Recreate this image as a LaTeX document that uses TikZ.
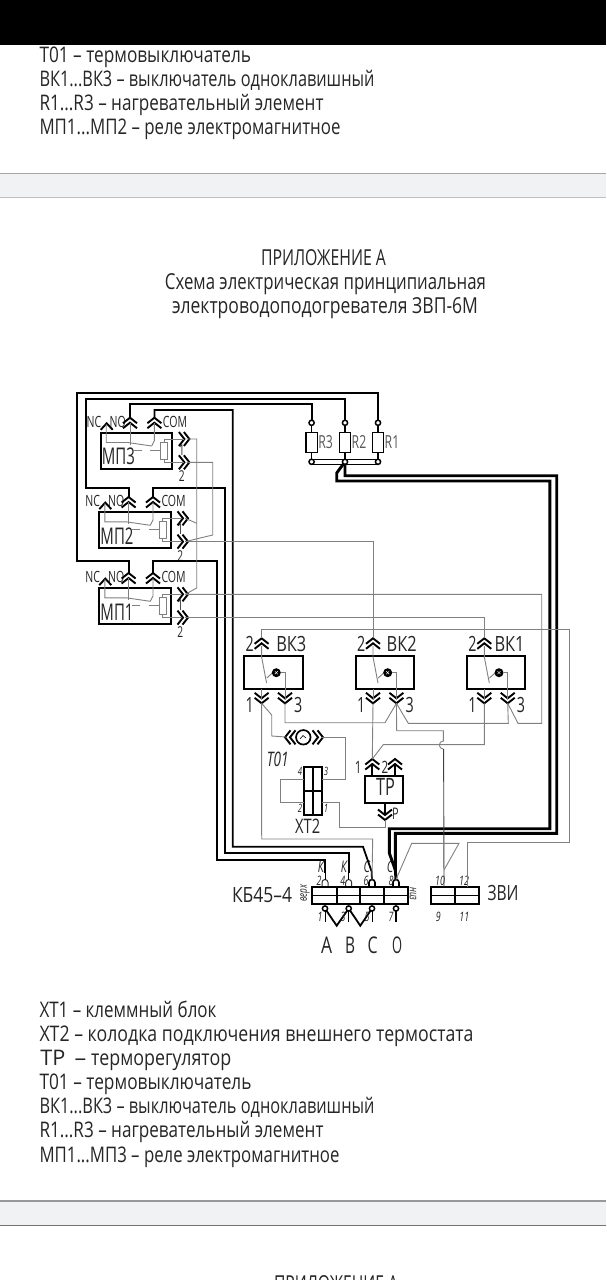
\documentclass[tikz,border=0pt]{standalone}
\usepackage{fontspec}
\usepackage{graphicx}
\setmainfont[FakeStretch=0.68]{Open Sans}
\definecolor{ink}{HTML}{262626}
\definecolor{wiregray}{HTML}{808080}
\definecolor{bandfill}{HTML}{F1F2F4}
\newcommand\fw[2]{\resizebox{#1pt}{\height}{#2}}
\tikzset{
  lbl/.style={font=\fontsize{#1}{#1}\selectfont, inner sep=0pt, outer sep=0pt, text=ink},
  ilbl/.style={font=\fontsize{#1}{#1}\selectfont\itshape, inner sep=0pt, outer sep=0pt, text=ink},
  txt/.style={lbl=21.5, anchor=base west},
  ttl/.style={lbl=22, anchor=base},
  thickw/.style={line width=1.8pt, draw=black},
  busw/.style={line width=2.9pt, draw=black},
  thinw/.style={line width=0.9pt, draw=wiregray},
  darkw/.style={line width=0.9pt, draw=black!75},
  boxs/.style={draw=black, line width=2pt, inner sep=0pt, outer sep=0pt, anchor=north west},
  ring/.style={circle, draw=black, line width=1.5pt, fill=white, inner sep=0pt, minimum size=5.2pt, outer sep=0pt},
  pics/dchev/.style={code={
    \draw[line width=1.9pt, draw=black] (-7,5.5) -- (0,0) -- (7,5.5);
    \draw[line width=1.9pt, draw=black] (-7,10.5) -- (0,5) -- (7,10.5);
  }},
  pics/schev/.style={code={
    \draw[line width=1.9pt, draw=black] (-6,6.5) -- (0,0) -- (6,6.5);
  }},
  pics/relay/.style={code={
    \node[boxs, minimum width=71.5pt, minimum height=36pt] (-box) at (0,0) {};
    \node[lbl=23] (-lab) at (17.7,23.5) {\fw{33}{#1}};
    \node[lbl=15.5] (-nc) at (-6.7,-11) {NC};
    \node[lbl=15.5] (-nol) at (17,-11) {NO};
    \node[lbl=15.5] (-coml) at (74.3,-11) {COM};
    \pic at (6,-9.7) {schev};
    \pic at (29.3,-15.3) {dchev};
    \pic at (53.7,-15.3) {dchev};
    \pic[rotate=-90] at (88.7,6) {dchev};
    \pic[rotate=-90] at (88.7,29.3) {dchev};
    \coordinate (-no) at (29.3,-15.3);
    \coordinate (-com) at (53.7,-15.3);
    \coordinate (-t1) at (86,6);
    \coordinate (-t2) at (86,29.3);
    \node[lbl=15] (-n1) at (81,17) {1};
    \node[lbl=15] (-n2) at (81,43.3) {2};
    \draw[thinw] (5.5,-9) -- (5.5,9.5) -- (27,9.5) -- (51,13);
    \draw[thinw] (29.3,-10) -- (29.3,11.7);
    \draw[thinw] (53.7,-10) -- (53.7,7.5) -- (51,13);
    \draw[thinw] (32.7,17.5) -- (41,17.5);
    \draw[thinw] (49.3,17.5) -- (59.5,17.5);
    \draw[thinw, fill=white] (60,9.3) rectangle (66.7,26);
    \draw[thinw] (63.3,9.3) -- (63.3,6) -- (83,6);
    \draw[thinw] (63.3,26) -- (63.3,29.3) -- (83,29.3);
  }},
  pics/resist/.style={code={
    \node[draw=black, line width=1.4pt, inner sep=0pt, minimum width=11.5pt, minimum height=20pt, outer sep=0pt] (-body) at (0,0) {};
    \node[ring] (-top) at (0,-19.5) {};
    \node[ring] (-bot) at (0,19.5) {};
    \draw[line width=1.3pt] (-top) -- (-body);
    \draw[line width=1.3pt] (-body) -- (-bot);
    \node[lbl=18, text=black!65] (-lab) at (14,0) {#1};
  }},
  pics/vk/.style 2 args={code={
    \node[boxs, minimum width=58.4pt, minimum height=33pt] (-box) at (0,0) {};
    \pic at (17.3,-17.7) {dchev};
    \pic[rotate=180] at (17.3,47.3) {dchev};
    \pic[rotate=180] at (40.7,47.3) {dchev};
    \coordinate (-p2) at (17.3,-17.7);
    \coordinate (-p1) at (17.3,47.3);
    \coordinate (-p3) at (40.7,47.3);
    \node[lbl=21] (-n2) at (5.5,-12.5) {2};
    \node[lbl=21] (-n1) at (5.5,49) {1};
    \node[lbl=21] (-n3) at (54,49) {3};
    \node[lbl=21] (-lab) at (#2,-12.5) {\fw{30}{#1}};
    \draw[thinw] (17.3,-10) -- (17.3,1) -- (22.3,27);
    \draw[thinw] (17.3,33) -- (17.3,44);
    \draw[thinw] (22.5,22) -- (28,17);
    \node[circle, fill=black, inner sep=0pt, minimum size=9pt] (-lamp) at (32,16.7) {};
    \draw[white, line width=0.4pt] (30.5,15.2) -- (33.5,18.2) (30.5,18.2) -- (33.5,15.2);
    \draw[thinw] (-lamp) -- (40.7,16.7) -- (40.7,44);
  }},
}
\begin{document}
\begin{tikzpicture}[x=1pt,y=-1pt]
\useasboundingbox (0,0) rectangle (606,1280);
\clip (0,0) rectangle (606,1280);
\fill[white] (0,0) rectangle (606,1280);

% top list
\node[txt] (a1) at (39.5,62) {\fw{211.5}{Т01 – термовыключатель}};
\node[txt] (a2) at (39.5,86) {\fw{335}{ВК1...ВК3 – выключатель одноклавишный}};
\node[txt] (a3) at (39.5,110) {\fw{284}{R1...R3 – нагревательный элемент}};
\node[txt] (a4) at (39.5,134) {\fw{301}{МП1...МП2 – реле электромагнитное}};
\fill[black] (0,0) rectangle (606,45);

% separators
\fill[bandfill] (0,173.5) rectangle (606,197.5);
\draw[black!35, line width=1pt] (0,173.5) -- (606,173.5);
\draw[black!25, line width=1.4pt] (0,197.5) -- (606,197.5);
\fill[bandfill] (0,1201) rectangle (606,1225);
\draw[black!40, line width=1.5pt] (0,1201) -- (606,1201);
\draw[black!55, line width=0.8pt] (0,1225) -- (606,1225);

% title
\node[ttl] (h1) at (323.5,265.5) {\fw{125}{ПРИЛОЖЕНИЕ А}};
\node[ttl] (h2) at (325.5,289.5) {\fw{321}{Схема электрическая принципиальная}};
\node[ttl] (h3) at (325,313.5) {\fw{306}{электроводоподогревателя ЗВП-6М}};

% bottom list
\node[txt] (b1) at (39.5,1017) {\fw{177}{ХТ1 – клеммный блок}};
\node[txt] (b2) at (39.5,1041) {\fw{434}{ХТ2 – колодка подключения внешнего термостата}};
\node[txt] (b3) at (40.5,1065) {\fw{25}{ТР}\hspace{9pt}\fw{11.7}{–}\hspace{5pt}\fw{140}{терморегулятор}};
\node[txt] (b4) at (39.5,1089) {\fw{212}{Т01 – термовыключатель}};
\node[txt] (b5) at (39.5,1113) {\fw{335}{ВК1...ВК3 – выключатель одноклавишный}};
\node[txt] (b6) at (39.5,1137) {\fw{284}{R1...R3 – нагревательный элемент}};
\node[txt] (b7) at (39.5,1162) {\fw{300}{МП1...МП3 – реле электромагнитное}};
\node[ttl] (h4) at (336,1291) {\fw{124}{ПРИЛОЖЕНИЕ А}};

% relays
\pic (m3) at (100.7,433) {relay=МП3};
\pic (m2) at (99.3,512.3) {relay=МП2};
\pic (m1) at (99.3,588.3) {relay=МП1};

% resistors
\pic (r3) at (311.6,442.3) {resist=R3};
\pic (r2) at (345,442.3) {resist=R2};
\pic (r1) at (378,442.3) {resist=R1};
\draw[line width=1.3pt] (r3-bot.north) -- (r2-bot.north) (r2-bot.north) -- (r1-bot.north);
\draw[line width=1.3pt] (r3-bot.south) -- (r2-bot.south) (r2-bot.south) -- (r1-bot.south);

% switches
\pic (v3) at (244.3,656) {vk={ВК3}{47}};
\pic (v2) at (355.7,656) {vk={ВК2}{46}};
\pic (v1) at (467,656) {vk={ВК1}{42.5}};

% TP
\node[boxs, minimum width=38.3pt, minimum height=27pt] (tp) at (365,776.3) {};
\node[lbl=24] (tplab) at (385.5,786.5) {ТР};
\pic at (372.3,759) {dchev};
\pic at (395,759) {dchev};
\pic[rotate=180] at (385,820) {dchev};
\coordinate (tp1) at (372.3,759);
\coordinate (tp2) at (395,759);
\coordinate (tpp) at (385,820);
\draw[thickw] (372.3,764) -- (372.3,776.3);
\draw[thickw] (395,764) -- (395,776.3);
\draw[thickw] (385,803.3) -- (385,815);
\node[lbl=17] (tpn1) at (358.3,767) {1};
\node[lbl=17] (tpn2) at (385,767) {2};
\node[lbl=16] (tpnp) at (395.5,813.5) {Р};

% T01
\node[circle, draw=black, line width=1.7pt, minimum size=14.5pt, inner sep=0pt, outer sep=0pt] (to) at (303.3,737.3) {};
\pic[rotate=90] at (285,737.3) {dchev};
\pic[rotate=-90] at (323,737.3) {dchev};
\coordinate (tol) at (286,737);
\coordinate (tor) at (322,737);
\draw[line width=0.6pt] (300,739) -- (303,735.5) -- (306,738);
\node[ilbl=20] (tolab) at (277.7,759) {Т01};

% XT2
\node[draw=black, line width=1.9pt, minimum width=17.4pt, minimum height=48pt, inner sep=0pt, outer sep=0pt] (xt) at (313,791) {};
\draw[line width=1.6pt] (xt.north) -- (xt.south);
\draw[line width=1.6pt] (xt.west) -- (xt.east);
\coordinate (xt4) at (304.3,779);
\coordinate (xt3) at (321.7,779);
\coordinate (xt2) at (304.3,802.7);
\coordinate (xt1) at (321.7,802.7);
\node[ilbl=11.5] (xn4) at (300,771) {4};
\node[ilbl=11.5] (xn3) at (326,771) {3};
\node[ilbl=11.5] (xn2) at (300,808) {2};
\node[ilbl=11.5] (xn1) at (326,808) {1};
\node[lbl=20] (xtlab) at (307.7,826) {\fw{25}{ХТ2}};

% terminal blocks
\node[boxs, minimum width=96pt, minimum height=17.6pt] (kb) at (312.3,886.7) {};
\draw[line width=1.9pt] (kb.west) -- (kb.east);
\foreach \x in {336.7,360.3,384} \draw[line width=1.9pt] (\x,886.7) -- (\x,904.3);
\node[boxs, minimum width=48pt, minimum height=17.6pt] (zv) at (431.3,886.7) {};
\draw[line width=1.9pt] (zv.west) -- (zv.east);
\draw[line width=1.9pt] (455.3,886.7) -- (455.3,904.3);
\coordinate (z10) at (444,886.7);
\coordinate (z12) at (467.3,886.7);
\foreach \x in {325,348.7} \draw[line width=1pt, draw=black!80] (\x-3,886) -- (\x-3,882.5) arc[start angle=180,end angle=0,radius=3pt] -- (\x+3,886);
\foreach \x in {372,396} \draw[line width=1.6pt] (\x-3,886) -- (\x-3,882.5) arc[start angle=180,end angle=0,radius=3pt] -- (\x+3,886);
\coordinate (kb2) at (325,879.5);
\coordinate (kb4) at (348.7,879.5);
\coordinate (kb6) at (372,879.5);
\coordinate (kb8) at (396,879.5);
\node[ring] (kb1) at (325,908.5) {};
\node[ring] (kb3) at (348.7,908.5) {};
\node[ring] (kb5) at (372,908.5) {};
\node[ring] (kb7) at (396,908.5) {};
\coordinate (zz1) at (336.7,925.7);
\coordinate (zz2) at (360.3,925.7);
\draw[thickw] (kb1) -- (zz1) -- (kb3) -- (zz2) -- (kb5);
\draw[thickw] (kb7) -- (396,922);
\draw[line width=1pt] (kb1) -- (325,922) (kb3) -- (348.7,922) (kb5) -- (372,922);
\foreach \n/\x/\t in {k2/321/К,k4/344/К,k6/366.7/С,k8/390/С} \node[ilbl=16] (\n) at (\x,867) {\t};
\foreach \n/\x/\t in {n2/319/2,n4/342.7/4,n6/366/6,n8/391/8,n10/440/10,n12/464/12} \node[ilbl=13] (\n) at (\x,880.5) {\t};
\foreach \n/\x/\t in {n1/320/1,n3/343/3,n5/367/5,n7/391/7,n9/438.3/9,n11/464.3/11} \node[ilbl=13] (\n) at (\x,916.5) {\t};
\node[ilbl=12, rotate=90] (verh) at (305,893) {верх};
\node[ilbl=12, rotate=-90] (niz) at (413,894) {низ};
\node[lbl=21] (kblab) at (262,895) {\fw{60}{КБ45–4}};
\node[lbl=21] (zvlab) at (503,893) {\fw{31}{ЗВИ}};
\node[lbl=23] (la) at (326.7,945) {\fw{11}{А}};
\node[lbl=23] (lb) at (350,945) {\fw{10}{В}};
\node[lbl=23] (lc) at (372.7,945) {\fw{10}{С}};
\node[lbl=23] (lo) at (397,945) {\fw{10}{О}};

% thick wires
\draw[thickw] (m1-no) |- (77,560.7) |- (378,393.3) -- (r1-top);
\draw[thickw] (m2-no) |- (86,488.3) |- (345,399) -- (r2-top);
\draw[thickw] (m3-no) |- (311.6,404) -- (r3-top);
\draw[thickw] (m1-com) |- (216.7,560.7) |- (325,860) -- (325,873);
\draw[thickw] (m2-com) |- (225,488.3) |- (348.7,853) -- (348.7,873);
\draw[thickw] (m3-com) |- (232.7,410) |- (363,846.7) -- (371.7,871.7) -- (kb6);
\draw[line width=1pt] (325,873) -- (kb2) (348.7,873) -- (kb4);
% bus
\draw[busw, line join=miter] (r2-bot) -- (345,475.7) -- (556.7,475.7) -- (556.7,833.3) -- (395.3,833.3) -- (395.3,870) -- (kb8);
\draw[busw, line join=miter] (r2-bot) -- (336.7,473) -- (336.7,481) -- (549.8,481) -- (549.8,828.7) -- (389.3,828.7) -- (389.3,853) -- (395.3,870);

% thin wires
\draw[thinw] (m3-t1) -- (196.7,439) -- (196.7,588) -- (m1-t1);
\draw[thinw] (m2-t1) -- (196.7,523.3);
\draw[thinw] (m3-t2) -- (212.7,462.3) -- (212.7,535) -- (m2-t2);
\draw[thinw] (m2-t2) -| (v2-p2);
\draw[thinw] (m1-t1) -- (541.7,594.3) -- (541.7,723.3) -- (518,723.3) -- (v1-p3);
\draw[thinw] (m1-t2) -| (v1-p2);
\draw[thinw] (v3-p2) |- (569.7,629.3) |- (467.3,842.7) -- (z12);
\draw[thinw] (v1-p3) -- (508.3,723.3) -- (408.3,723.3) -- (v2-p3);
\draw[thinw] (v2-p3) -- (385,722.7) -- (285,722.7) -- (v3-p3);
\draw[thinw] (v2-p3) -- (396.7,730.7) -- (443.3,730.7) -- (443.3,741) arc[start angle=90,end angle=270,radius=4pt];
\draw[darkw] (443.6,749) -- (z10);
\draw[thinw] (v1-p1) -- (484.3,744.6) -- (383.3,744.6) -- (tp1);
\draw[thinw] (v2-p1) -- (tp1);
\draw[thinw] (v3-p1) -- (261.7,839) -- (372.7,839) -- (kb6);
\draw[thinw] (v3-p1) -- (271.7,715) -- (271.7,736) -- (tol);
\draw[thinw] (tor) -- (345.7,737) -- (345.7,779) -- (xt3);
\draw[thinw] (xt4) -- (280,779) -- (280,802.7) -- (xt2);
\draw[thinw] (xt1) -- (339.3,802.7) -- (339.3,827.3) -- (385,827.3) -- (tpp);
\coordinate (fork) at (411.7,843.3);
\draw[thinw] (kb8) -- (fork) -- (459,843.3) -- (444,870);
\end{tikzpicture}
\end{document}
